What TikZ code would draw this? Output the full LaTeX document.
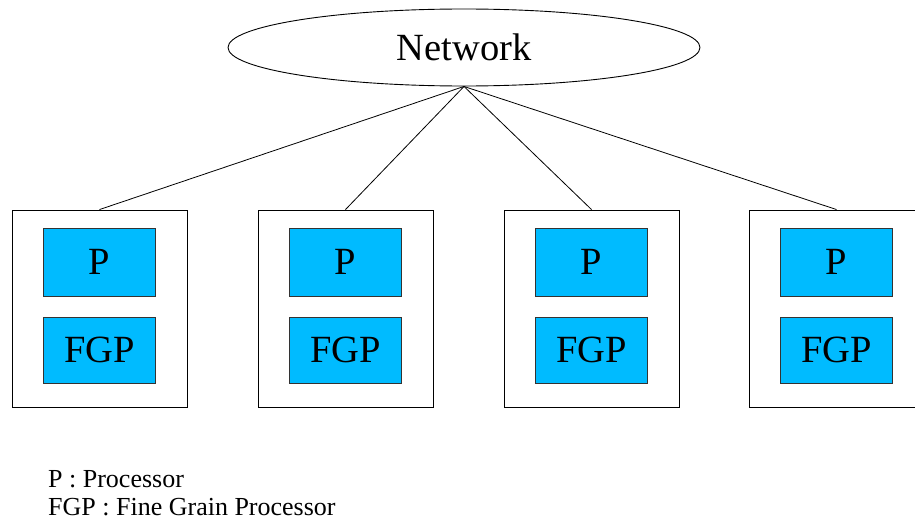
\documentclass[tikz,border=0pt]{standalone}
\usepackage{fontspec}
\setmainfont{Liberation Serif}
\usetikzlibrary{shapes.geometric}
\definecolor{procblue}{HTML}{00BBFF}
\definecolor{edgegray}{HTML}{333333}
\tikzset{
  board/.style={draw=black, line width=0.9pt, minimum width=175pt, minimum height=197pt, inner sep=0pt},
  unit/.style={draw=edgegray, fill=procblue, line width=0.9pt, minimum width=112pt, inner sep=0pt, font=\fontsize{38.5}{40}\selectfont},
  link/.style={draw=black, line width=0.8pt},
  legend/.style={anchor=base west, inner sep=0pt, font=\fontsize{26}{29}\selectfont}
}
\begin{document}
\begin{tikzpicture}[x=1pt, y=-1pt]
  \useasboundingbox (0,0) rectangle (915,519);
  \clip (0,0) rectangle (915,519);
  \fill[white] (0,0) rectangle (915,519);

  % network ellipse
  \node[ellipse, draw=black, line width=0.9pt, minimum width=472pt, minimum height=77pt, inner sep=0pt,
        font=\fontsize{38.5}{40}\selectfont] (net) at (464,47.5) {Network};

  % four processing boards
  \foreach \i/\cx in {1/99.5, 2/345.5, 3/591.5, 4/836.5} {
    \node[board] (b\i) at (\cx,308.5) {};
    \node[unit, minimum height=68pt] (p\i) at (\cx,262) {P};
    \node[unit, minimum height=66pt] (f\i) at (\cx,350) {FGP};
  }

  % links from the network to each board
  \foreach \i in {1,2,3,4} {
    \draw[link] (net.south) -- (b\i.north);
  }

  % legend
  \node[legend] (l1) at (48,487) {P : Processor};
  \node[legend] (l2) at (48,515) {FGP : Fine Grain Processor};
\end{tikzpicture}
\end{document}
